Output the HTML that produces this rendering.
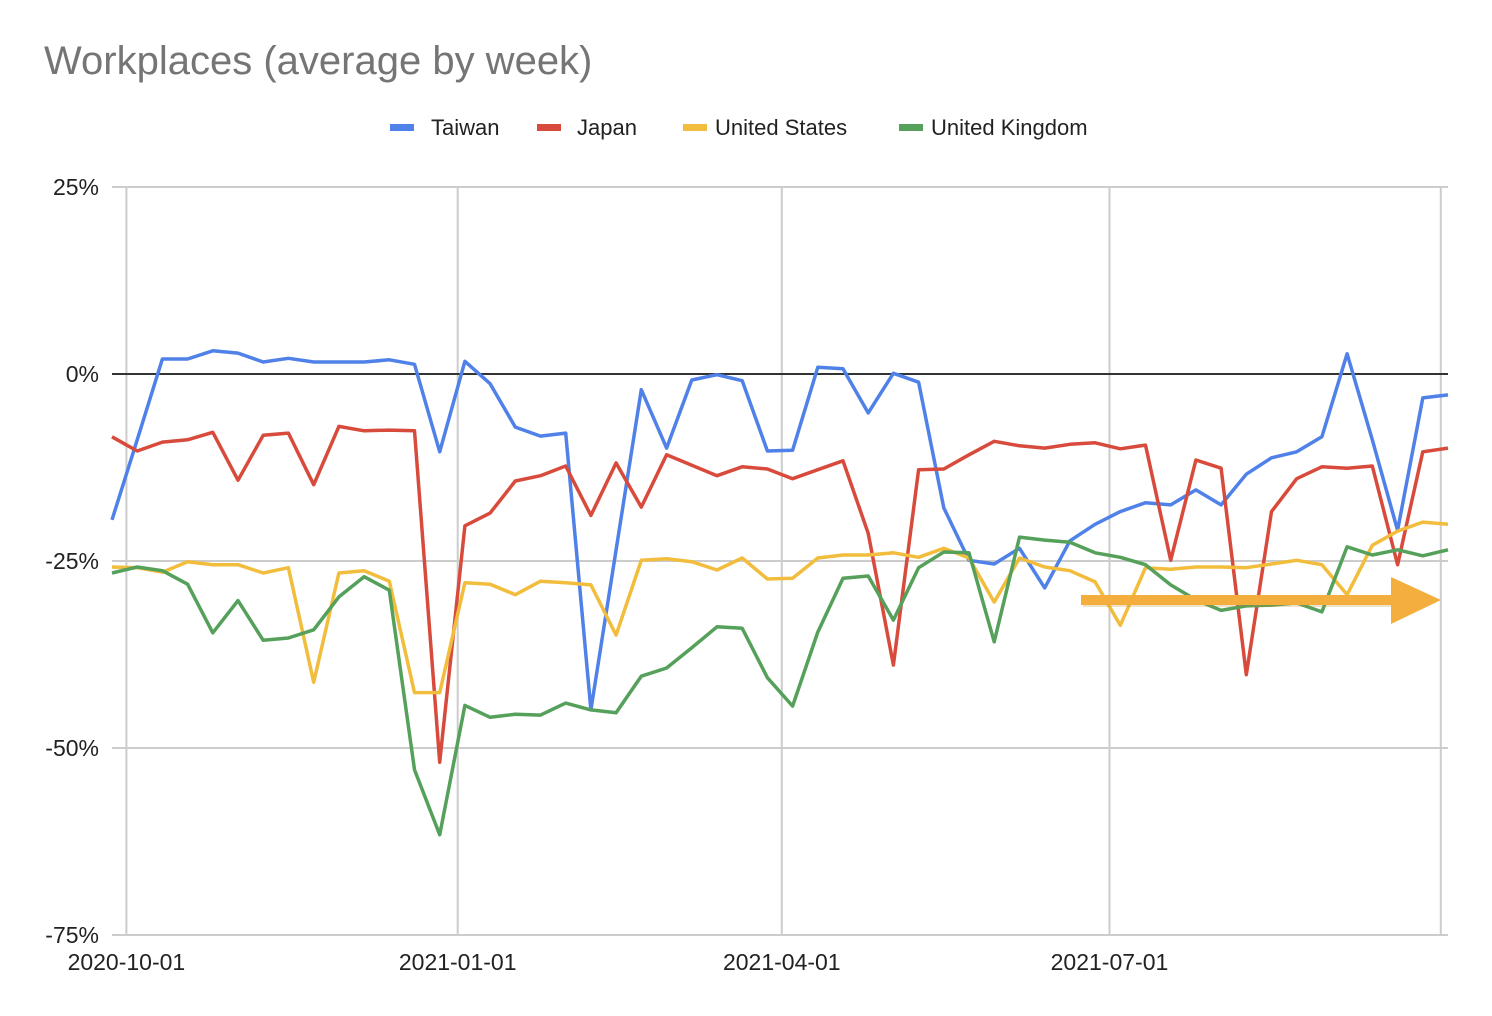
<!DOCTYPE html>
<html><head><meta charset="utf-8"><style>
html,body{margin:0;padding:0;background:#fff;}
svg{display:block;font-family:"Liberation Sans",Arial,sans-serif;}
</style></head><body>
<svg id="chart" width="1492" height="1016" viewBox="0 0 1492 1016">
<text x="44" y="74" font-size="40" fill="#757575">Workplaces (average by week)</text>
<g>
 <g><rect x="390" y="124" width="24" height="7" fill="#4f81e8"/><text x="431" y="135" font-size="22" fill="#222">Taiwan</text></g>
 <g><rect x="537" y="124" width="24" height="7" fill="#d84b3c"/><text x="577" y="135" font-size="22" fill="#222">Japan</text></g>
 <g><rect x="683" y="124" width="24" height="7" fill="#f2bd3c"/><text x="715" y="135" font-size="22" fill="#222">United States</text></g>
 <g><rect x="899" y="124" width="24" height="7" fill="#55a05a"/><text x="931" y="135" font-size="22" fill="#222">United Kingdom</text></g>
</g>
<g id="grid"></g>
<g id="yaxis"></g>
<g id="xaxis"></g>
<g id="series"></g>
<g>
 <rect x="1083" y="597" width="312" height="10" fill="#c08a30" opacity="0.25"/>
 <rect x="1081" y="595" width="312" height="10" fill="#f3ae3d"/>
 <polygon points="1391,577 1441,600 1391,624" fill="#f3ae3d"/>
</g>
</svg>
<script>
const startDate = "2020-09-27";
const tickDates = ["2020-10-01","2021-01-01","2021-04-01","2021-07-01","2021-10-01"];
const tickLabels = ["2020-10-01","2021-01-01","2021-04-01","2021-07-01",""];
const yTicks = [25,0,-25,-50,-75];
const yTickLabels = ["25%","0%","-25%","-50%","-75%"];
const taiwan = [-19.5,-8.8,2.0,2.0,3.1,2.8,1.6,2.1,1.6,1.6,1.6,1.9,1.3,-10.4,1.7,-1.3,-7.1,-8.3,-7.9,-44.9,-23.5,-2.1,-9.9,-0.8,-0.1,-0.9,-10.3,-10.2,0.9,0.7,-5.2,0.1,-1.1,-17.9,-24.9,-25.4,-23.3,-28.6,-22.3,-20.1,-18.4,-17.2,-17.5,-15.5,-17.5,-13.4,-11.2,-10.4,-8.4,2.7,-8.8,-20.9,-3.2,-2.8];
const japan = [-8.4,-10.3,-9.1,-8.8,-7.8,-14.2,-8.2,-7.9,-14.8,-7.0,-7.6,-7.5,-7.6,-51.9,-20.3,-18.6,-14.3,-13.6,-12.3,-18.9,-11.9,-17.8,-10.8,-12.2,-13.6,-12.4,-12.7,-14.0,-12.8,-11.6,-21.3,-38.9,-12.8,-12.7,-10.8,-9.0,-9.6,-9.9,-9.4,-9.2,-10.0,-9.5,-24.9,-11.5,-12.6,-40.2,-18.4,-14.0,-12.4,-12.6,-12.3,-25.5,-10.4,-9.9];
const unitedStates = [-25.8,-25.9,-26.5,-25.1,-25.5,-25.5,-26.6,-25.9,-41.2,-26.6,-26.3,-27.7,-42.6,-42.6,-27.9,-28.1,-29.5,-27.7,-27.9,-28.2,-34.9,-24.9,-24.7,-25.1,-26.2,-24.6,-27.4,-27.3,-24.6,-24.2,-24.2,-23.9,-24.5,-23.3,-24.6,-30.5,-24.6,-25.8,-26.3,-27.8,-33.6,-25.9,-26.1,-25.8,-25.8,-25.9,-25.4,-24.9,-25.5,-29.5,-22.9,-21.0,-19.8,-20.1];
const unitedKingdom = [-26.6,-25.8,-26.3,-28.1,-34.6,-30.3,-35.6,-35.3,-34.2,-29.8,-27.1,-28.9,-52.9,-61.6,-44.3,-45.9,-45.5,-45.6,-44.0,-44.9,-45.3,-40.4,-39.3,-36.6,-33.8,-34.0,-40.6,-44.4,-34.5,-27.3,-27.0,-32.9,-25.9,-23.8,-23.9,-35.8,-21.8,-22.2,-22.5,-23.9,-24.5,-25.5,-28.2,-30.2,-31.6,-31.0,-30.9,-30.6,-31.8,-23.1,-24.2,-23.5,-24.3,-23.5];

const NS="http://www.w3.org/2000/svg";
const X0=112, PXDAY=3.601, Y0=374, PXPCT=7.48;
const dayMs=86400000, t0=Date.parse(startDate);
function xDate(d){return X0+((Date.parse(d)-t0)/dayMs)*PXDAY;}
function xIdx(i){return X0+i*7*PXDAY;}
function yv(v){return Y0-v*PXPCT;}
function mk(tag,attrs,parent){const e=document.createElementNS(NS,tag);for(const k in attrs)e.setAttribute(k,attrs[k]);parent.appendChild(e);return e;}
const grid=document.getElementById('grid'),yax=document.getElementById('yaxis'),xax=document.getElementById('xaxis'),ser=document.getElementById('series');
yTicks.forEach((t,i)=>{
 if(t!==0){const l=mk('line',{x1:112,x2:1448,y1:yv(t),y2:yv(t),stroke:'#cccccc','stroke-width':2},grid);
 
 }
 const tx=mk('text',{x:99,y:yv(t)+8,'text-anchor':'end','font-size':23,fill:'#222'},yax);
 tx.textContent=yTickLabels[i];
 
 
});
tickDates.forEach((d,i)=>{
 const x=xDate(d);
 const l=mk('line',{x1:x,x2:x,y1:186,y2:936,stroke:'#cccccc','stroke-width':2},grid);
 
 
 if(tickLabels[i]){const tx=mk('text',{x:x,y:970,'text-anchor':'middle','font-size':23,fill:'#222'},xax);
 tx.textContent=tickLabels[i];
 
 }
});
const zl=mk('line',{x1:112,x2:1448,y1:yv(0),y2:yv(0),stroke:'#333','stroke-width':2},grid);


[[taiwan,'#4f81e8','line-taiwan'],[japan,'#d84b3c','line-japan'],[unitedStates,'#f2bd3c','line-united-states'],[unitedKingdom,'#55a05a','line-united-kingdom']].forEach(s=>{
 const pts=s[0].map((v,i)=>xIdx(i).toFixed(1)+','+yv(v).toFixed(1)).join(' ');
 const p=mk('polyline',{points:pts,fill:'none',stroke:s[1],'stroke-width':3.5,'stroke-linejoin':'round'},ser);
 
 
});
</script>
</body></html>
